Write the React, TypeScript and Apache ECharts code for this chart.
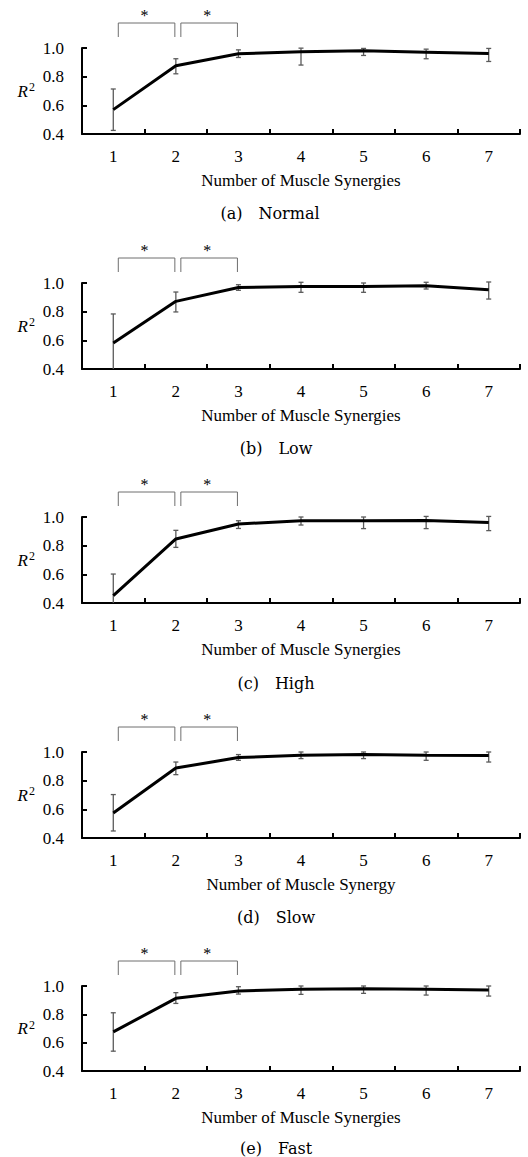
import React, { useEffect, useRef } from 'react';
import * as echarts from 'echarts';

const categories = ['1', '2', '3', '4', '5', '6', '7'];

const normalMean = [0.57, 0.876, 0.96, 0.973, 0.98, 0.971, 0.962];
const normalHi = [0.714, 0.925, 0.987, 0.999, 0.997, 0.992, 0.997];
const normalLo = [0.425, 0.82, 0.934, 0.881, 0.948, 0.925, 0.906];

const lowMean = [0.581, 0.872, 0.969, 0.976, 0.976, 0.981, 0.953];
const lowHi = [0.784, 0.937, 0.988, 1.005, 1.0, 1.005, 1.007];
const lowLo = [0.378, 0.798, 0.949, 0.935, 0.935, 0.958, 0.888];

const highMean = [0.451, 0.847, 0.951, 0.974, 0.974, 0.976, 0.962];
const highHi = [0.602, 0.907, 0.974, 1.0, 1.0, 1.004, 1.004];
const highLo = [0.3, 0.788, 0.92, 0.944, 0.919, 0.919, 0.905];

const slowMean = [0.574, 0.888, 0.961, 0.978, 0.982, 0.978, 0.976];
const slowHi = [0.703, 0.93, 0.982, 1.0, 1.0, 1.0, 1.0];
const slowLo = [0.449, 0.842, 0.942, 0.954, 0.954, 0.942, 0.93];

const fastMean = [0.676, 0.913, 0.965, 0.977, 0.981, 0.977, 0.972];
const fastHi = [0.811, 0.953, 0.995, 1.0, 1.0, 1.0, 1.0];
const fastLo = [0.54, 0.877, 0.943, 0.941, 0.948, 0.936, 0.929];

const panelTags = ['(a)', '(b)', '(c)', '(d)', '(e)'];
const panelNames = ['Normal', 'Low', 'High', 'Slow', 'Fast'];
const xAxisNames = [
  'Number of Muscle Synergies',
  'Number of Muscle Synergies',
  'Number of Muscle Synergies',
  'Number of Muscle Synergy',
  'Number of Muscle Synergies',
];
// significance brackets: pairs of category indices
const sigPairs = [
  [0, 1],
  [1, 2],
];

const means = [normalMean, lowMean, highMean, slowMean, fastMean];
const his = [normalHi, lowHi, highHi, slowHi, fastHi];
const los = [normalLo, lowLo, highLo, slowLo, fastLo];

const Y_MIN = 0.4;
const Y_MAX = 1.0;

const gridTops = [48, 283, 517, 752, 986];
const gridHeights = [86, 86, 86, 86, 85];
const captionY = [213, 448, 683, 917, 1148];
const captionX = [270, 276, 276, 276, 276];

const SERIF = 'Liberation Serif';

export default function App() {
  const ref = useRef<HTMLDivElement>(null);

  useEffect(() => {
    if (!ref.current) return;
    const chart = echarts.init(ref.current, undefined, { renderer: 'svg' });

    const errorBar = (params: any, api: any) => {
      const x = api.value(0);
      const loRaw = api.value(1);
      const clamped = loRaw < Y_MIN;
      const lo = clamped ? Y_MIN : loRaw;
      const hi = api.value(2);
      const pHi = api.coord([x, hi]);
      const pLo = api.coord([x, lo]);
      const w = 2.5;
      const st = { stroke: '#5a5a5a', lineWidth: 1.3 };
      const children: any[] = [
        { type: 'line', shape: { x1: pHi[0], y1: pHi[1], x2: pLo[0], y2: pLo[1] }, style: st },
        { type: 'line', shape: { x1: pHi[0] - w, y1: pHi[1], x2: pHi[0] + w, y2: pHi[1] }, style: st },
      ];
      if (!clamped) {
        children.push({
          type: 'line',
          shape: { x1: pLo[0] - w, y1: pLo[1], x2: pLo[0] + w, y2: pLo[1] },
          style: st,
        });
      }
      return { type: 'group', children };
    };

    const bracket = (params: any, api: any) => {
      const s = api.value(0);
      const e = api.value(1);
      const ps = api.coord([s, Y_MAX]);
      const pe = api.coord([e, Y_MAX]);
      const top = ps[1] - 25;
      const leg = ps[1] - 11;
      const x1 = ps[0] + 5;
      const x2 = pe[0] - 1;
      return {
        type: 'group',
        children: [
          {
            type: 'polyline',
            shape: { points: [[x1, leg], [x1, top], [x2, top], [x2, leg]] },
            style: { stroke: '#6e6e6e', lineWidth: 1, fill: 'none' },
          },
          {
            type: 'text',
            x: (x1 + x2) / 2 - 2,
            y: top - 8,
            style: {
              text: '*',
              fontSize: 16,
              fontFamily: SERIF,
              fill: '#000',
              align: 'center',
              verticalAlign: 'middle',
            },
          },
        ],
      };
    };

    const grid: any[] = [];
    const xAxis: any[] = [];
    const yAxis: any[] = [];
    const series: any[] = [];
    const graphic: any[] = [];

    means.forEach((m, i) => {
      grid.push({ left: 82, right: 8, top: gridTops[i], height: gridHeights[i] });
      xAxis.push({
        type: 'category',
        gridIndex: i,
        data: categories,
        boundaryGap: true,
        axisLine: { show: true, onZero: false, lineStyle: { color: '#000', width: 2 } },
        axisTick: { show: true, inside: true, length: 5, lineStyle: { color: '#000', width: 2 } },
        axisLabel: { color: '#000', fontFamily: SERIF, fontSize: 17, margin: 14 },
        splitLine: { show: false },
        name: xAxisNames[i],
        nameLocation: 'middle',
        nameGap: 38,
        nameTextStyle: { color: '#000', fontFamily: SERIF, fontSize: 17 },
      });
      yAxis.push({
        type: 'value',
        gridIndex: i,
        min: Y_MIN,
        max: Y_MAX,
        interval: 0.2,
        axisLine: { show: true, lineStyle: { color: '#000', width: 2 } },
        axisTick: { show: true, inside: true, length: 5, lineStyle: { color: '#000', width: 2 } },
        axisLabel: {
          color: '#000',
          fontFamily: SERIF,
          fontSize: 17,
          margin: 18,
          formatter: (v: number) => v.toFixed(1),
        },
        splitLine: { show: false },
        name: '{i|R}{s|2}',
        nameLocation: 'middle',
        nameRotate: 0,
        nameGap: 47,
        nameTextStyle: {
          rich: {
            i: { fontStyle: 'italic', fontFamily: SERIF, fontSize: 17, color: '#000' },
            s: { fontFamily: SERIF, fontSize: 12, color: '#000', padding: [0, 0, 8, 1] },
          },
        },
      });
      series.push({
        type: 'custom',
        xAxisIndex: i,
        yAxisIndex: i,
        data: categories.map((c, k) => [k, los[i][k], his[i][k]]),
        renderItem: errorBar,
        z: 2,
        silent: true,
      });
      series.push({
        type: 'line',
        xAxisIndex: i,
        yAxisIndex: i,
        data: m,
        symbol: 'none',
        lineStyle: { color: '#000', width: 3 },
        z: 3,
        silent: true,
      });
      series.push({
        type: 'custom',
        xAxisIndex: i,
        yAxisIndex: i,
        data: sigPairs,
        renderItem: bracket,
        clip: false,
        z: 4,
        silent: true,
      });
      graphic.push({
        type: 'text',
        x: captionX[i],
        y: captionY[i],
        style: {
          text: `${panelTags[i]}\u2003${panelNames[i]}`,
          fontFamily: 'DejaVu Serif',
          fontSize: 16,
          fill: '#000',
          align: 'center',
          verticalAlign: 'middle',
        },
      });
    });

    chart.setOption({
      animation: false,
      backgroundColor: '#fff',
      grid,
      xAxis,
      yAxis,
      series,
      graphic,
    });

    return () => chart.dispose();
  }, []);

  return (
    <div
      ref={ref}
      style={{ position: 'absolute', left: 0, top: 0, width: 528, height: 1157 }}
    />
  );
}
